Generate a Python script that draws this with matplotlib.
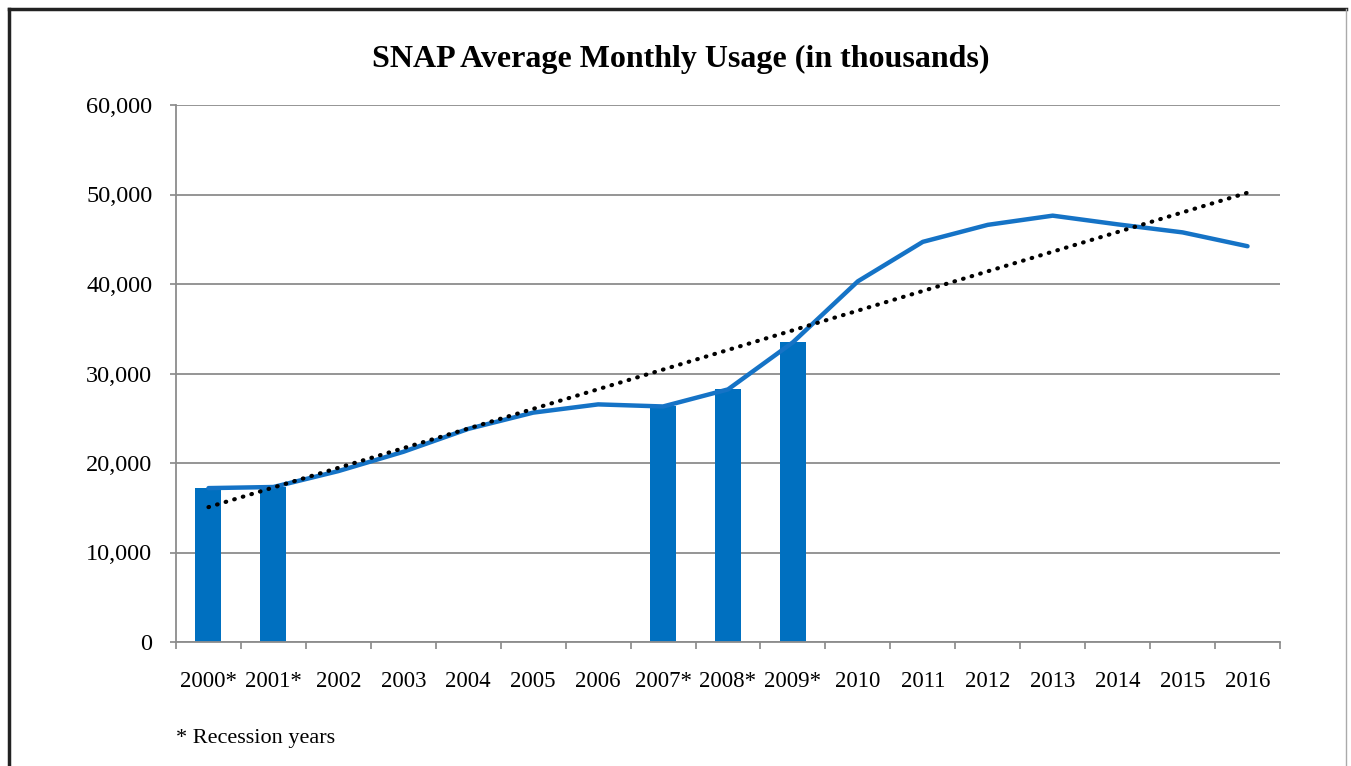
import matplotlib
matplotlib.use("Agg")
import matplotlib.pyplot as plt
import numpy as np
from matplotlib.lines import Line2D

years = ["2000*", "2001*", "2002", "2003", "2004", "2005", "2006", "2007*", "2008*",
         "2009*", "2010", "2011", "2012", "2013", "2014", "2015", "2016"]
usage = [17194, 17318, 19096, 21250, 23811, 25628, 26549, 26316, 28223,
         33490, 40302, 44709, 46609, 47636, 46664, 45767, 44220]
recession = [True, True, False, False, False, False, False, True, True,
             True, False, False, False, False, False, False, False]
yticks = [0, 10000, 20000, 30000, 40000, 50000, 60000]

plt.rcParams['font.family'] = ['Liberation Serif', 'DejaVu Serif']

fig = plt.figure(figsize=(13.51, 7.66), dpi=100)
ax = fig.add_axes([176/1351, 1-642/766, (1280-176)/1351, (642-105)/766])

x = np.arange(len(years))
bar_x = [xi for xi, r in zip(x, recession) if r]
bar_y = [u for u, r in zip(usage, recession) if r]
ax.bar(bar_x, bar_y, width=0.4, color='#0070C0', zorder=2)
ax.plot(x, usage, color='#1573C6', linewidth=3.2, solid_joinstyle='round',
        solid_capstyle='round', zorder=3)

coef = np.polyfit(x, usage, 1)
trend = np.polyval(coef, x)
ax.plot(x, trend, color='black', linewidth=3.0, linestyle=(0, (0.15, 2.0)),
        dash_capstyle='round', zorder=4)

ax.set_xlim(-0.5, len(years) - 0.5)
ax.set_ylim(0, 60000)
ax.set_yticks(yticks)
ax.set_yticklabels([f"{v:,}" for v in yticks])
ax.set_xticks(x)
ax.set_xticklabels(years)
ax.set_xticks(np.arange(-0.5, len(years), 1), minor=True)
ax.tick_params(axis='x', which='major', length=0, pad=21, labelsize=16.5)
ax.tick_params(axis='x', which='minor', length=5, color='#888888', width=1.2)
ax.tick_params(axis='y', length=4, color='#888888', width=1.2, pad=13, labelsize=17.5)

ax.grid(axis='y', color='#8c8c8c', linewidth=1.3, zorder=0)
ax.set_axisbelow(True)
for s in ['top', 'right']:
    ax.spines[s].set_visible(False)
for s in ['left', 'bottom']:
    ax.spines[s].set_color('#8c8c8c')
    ax.spines[s].set_linewidth(1.3)

fig.text(681/1351, 1-59/766, "SNAP Average Monthly Usage (in thousands)",
         ha='center', va='center', fontsize=23, fontweight='bold')
fig.text(176/1351, 1-738/766, "* Recession years", ha='left', va='center', fontsize=16)

# frame
fig.add_artist(Line2D([9/1351, 9/1351], [0, 1-9/766], transform=fig.transFigure,
                      color='#222222', linewidth=2.5))
fig.add_artist(Line2D([9/1351, 1346/1351], [1-9/766, 1-9/766], transform=fig.transFigure,
                      color='#222222', linewidth=2.5))
fig.add_artist(Line2D([1346/1351, 1346/1351], [0, 1-9/766], transform=fig.transFigure,
                      color='#aaaaaa', linewidth=1))

fig.savefig("out.png", dpi=100)
